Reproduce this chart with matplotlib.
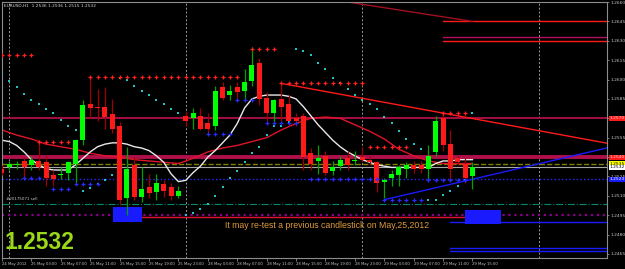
import matplotlib
matplotlib.use('Agg')
import matplotlib.pyplot as plt
from matplotlib.patches import Rectangle
import numpy as np

# ── H1 bars, index 0 = 25 May 03:00 (weekend gap after index 20) ─────────────
bar_idx = np.arange(-4, 61)
opens = [1.2531, 1.2532, 1.2534, 1.2537, 1.2534, 1.2537, 1.2536, 1.2526, 1.2526, 1.2528,
         1.2535, 1.2553, 1.2581, 1.2579, 1.2579, 1.2573, 1.2564, 1.2508, 1.2534, 1.2509,
         1.2517, 1.2513, 1.2519, 1.2517, 1.2510, 1.2572, 1.2570, 1.2572, 1.2566, 1.2564,
         1.2594, 1.2588, 1.2594, 1.2591, 1.2599, 1.2613, 1.2586, 1.2574, 1.2585, 1.2581,
         1.2570, 1.2572, 1.2543, 1.2537, 1.2541, 1.2529, 1.2533, 1.2539, 1.2537, 1.2540,
         1.2538, 1.2536, 1.2521, 1.2524, 1.2526, 1.2531, 1.2534, 1.2534, 1.2531, 1.2544,
         1.2570, 1.2550, 1.2539, 1.2535, 1.2525]
highs = [1.2534, 1.2537, 1.2537, 1.2540, 1.2541, 1.2553, 1.2541, 1.2530, 1.2532, 1.2537,
         1.2554, 1.2584, 1.2603, 1.2593, 1.2594, 1.2585, 1.2567, 1.2548, 1.2540, 1.2532,
         1.2527, 1.2527, 1.2522, 1.2520, 1.2518, 1.2576, 1.2578, 1.2578, 1.2574, 1.2595,
         1.2598, 1.2596, 1.2598, 1.2608, 1.2625, 1.2617, 1.2590, 1.2585, 1.2597, 1.2588,
         1.2574, 1.2574, 1.2547, 1.2549, 1.2545, 1.2537, 1.2541, 1.2545, 1.2545, 1.2548,
         1.2541, 1.2537, 1.2524, 1.2530, 1.2534, 1.2536, 1.2537, 1.2537, 1.2549, 1.2572,
         1.2574, 1.2561, 1.2541, 1.2539, 1.2536]
lows = [1.2526, 1.2530, 1.2531, 1.2524, 1.2530, 1.2530, 1.2518, 1.2518, 1.2523, 1.2522,
        1.2520, 1.2549, 1.2570, 1.2568, 1.2562, 1.2559, 1.2503, 1.2495, 1.2507, 1.2505,
        1.2508, 1.2507, 1.2509, 1.2507, 1.2508, 1.2564, 1.2562, 1.2561, 1.2557, 1.2561,
        1.2584, 1.2584, 1.2584, 1.2584, 1.2595, 1.2580, 1.2568, 1.2564, 1.2568, 1.2564,
        1.2564, 1.2530, 1.2530, 1.2527, 1.2526, 1.2526, 1.2530, 1.2530, 1.2534, 1.2536,
        1.2534, 1.2513, 1.2508, 1.2518, 1.2518, 1.2524, 1.2528, 1.2528, 1.2522, 1.2541,
        1.2545, 1.2522, 1.2534, 1.2520, 1.2515]
closes = [1.2528, 1.2535, 1.2535, 1.2532, 1.2538, 1.2532, 1.2524, 1.2523, 1.2527, 1.2536,
          1.2553, 1.2580, 1.2578, 1.2578, 1.2571, 1.2562, 1.2507, 1.2531, 1.2509, 1.2515,
          1.2512, 1.2520, 1.2514, 1.2510, 1.2514, 1.2568, 1.2574, 1.2562, 1.2562, 1.2591,
          1.2586, 1.2591, 1.2590, 1.2598, 1.2611, 1.2585, 1.2574, 1.2584, 1.2579, 1.2568,
          1.2568, 1.2540, 1.2535, 1.2539, 1.2528, 1.2532, 1.2538, 1.2534, 1.2538, 1.2538,
          1.2536, 1.2520, 1.2522, 1.2527, 1.2532, 1.2534, 1.2531, 1.2531, 1.2541, 1.2568,
          1.2549, 1.2531, 1.2536, 1.2524, 1.2532]

# parabolic SAR (one value per bar)
sar = [1.2604, 1.2599, 1.2594, 1.2589, 1.2584, 1.2581, 1.2577, 1.2574, 1.2569, 1.2564,
       1.2561, 1.2514, 1.2516, 1.2519, 1.2522, 1.2526, 1.2601, 1.2600, 1.2595, 1.2591,
       1.2588, 1.2584, 1.2581, 1.2577, 1.2574, 1.2495, 1.2497, 1.2500, 1.2504, 1.2510,
       1.2517, 1.2524, 1.2529, 1.2536, 1.2543, 1.2548, 1.2557, 1.2564, 1.2564, 1.2567,
       1.2624, 1.2622, 1.2619, 1.2613, 1.2608, 1.2601, 1.2597, 1.2593, 1.2588, 1.2584,
       1.2581, 1.2577, 1.2571, 1.2566, 1.2560, 1.2554, 1.2550, 1.2546, 1.2507, 1.2507,
       1.2511, 1.2514, 1.2518, 1.2522, 1.2574]

# white moving average (one value per bar)
ma_white = [1.2553, 1.2552, 1.2549, 1.2544, 1.2538, 1.2534, 1.2531, 1.2530, 1.2530, 1.2530,
            1.2534, 1.2539, 1.2544, 1.2548, 1.2550, 1.2551, 1.2551, 1.2550, 1.2548, 1.2547,
            1.2545, 1.2541, 1.2536, 1.2527, 1.2521, 1.2522, 1.2528, 1.2533, 1.2540, 1.2545,
            1.2551, 1.2557, 1.2566, 1.2578, 1.2585, 1.2587, 1.2588, 1.2588, 1.2588, 1.2587,
            1.2585, 1.2579, 1.2572, 1.2565, 1.2559, 1.2553, 1.2548, 1.2544, 1.2541, 1.2538,
            1.2536, 1.2534, 1.2533, 1.2532, 1.2532, 1.2532, 1.2532, 1.2532, 1.2532, 1.2535,
            1.2537, 1.2537, 1.2538, 1.2538, 1.2538]

# red moving average (every second bar)
ma_red_idx = np.arange(-4, 61, 2)
ma_red = [1.2561, 1.2557, 1.2554, 1.2550, 1.2548, 1.2546, 1.2543, 1.2541, 1.2540, 1.2538,
          1.2537, 1.2536, 1.2535, 1.2539, 1.2544, 1.2547, 1.2549, 1.2552, 1.2555, 1.2561,
          1.2566, 1.2570, 1.2571, 1.2570, 1.2565, 1.2560, 1.2554, 1.2546, 1.2541, 1.2537,
          1.2535, 1.2535, 1.2535]

# fractal-type level markers: (price, first bar, last bar)
red_marks = [(1.2619, -4, 0), (1.2552, 1, 5), (1.2602, 8, 28), (1.2624, 30, 33),
             (1.2597, 34, 45), (1.2548, 46, 51), (1.2574, 56, 59)]
blue_marks = [(1.2524, -1, 1), (1.2515, 3, 5), (1.2519, 6, 9), (1.2558, 24, 27),
              (1.2584, 28, 30), (1.2566, 32, 36), (1.2523, 38, 47), (1.2507, 48, 53),
              (1.2522, 54, 59)]

# trend lines: (bar1, price1, bar2, price2, colour)
trend_lines = [(34, 1.2597, 79, 1.2550, '#ff1a1a'),
               (43, 1.2660, 60, 1.2645, '#a01020'),
               (48, 1.2507, 79, 1.2548, '#1a1aff')]

# horizontal levels spanning the chart
levels = [(1.2570, '#b0104a', 1.3, '-'), (1.2540, '#b0104a', 2.8, '-'),
          (1.2535, '#808000', 1.0, '--'), (1.2532, '#a8a8a8', 0.8, '-'),
          (1.2523, '#2a2aff', 1.0, ':'), (1.2504, '#008a6a', 0.8, '-.'),
          (1.2495, '#8a008a', 1.6, ':')]
# partial horizontal segments: (price, bar from, bar to, colour)
segments = [(1.2645, 56, 79, '#ff1a1a'), (1.2633, 56, 79, '#b01060'),
            (1.2630, 56, 79, '#ff1a1a'), (1.2494, 13, 59, '#e01030'),
            (1.2490, 57, 79, '#1a1aff'), (1.2470, 57, 79, '#1a1aff'),
            (1.2467, 57, 79, '#1a1aff')]
# blue zones: (bar from, bar to, price low, price high)
zones = [(11.1, 15.1, 1.2490, 1.2501), (59.0, 63.9, 1.2488, 1.2499)]

day_starts = [-3, 21, 45, 69]
tick_bars = list(range(-4, 61, 4))
tick_labels = ['24 May 2012', '25 May 03:00', '25 May 07:00', '25 May 11:00',
               '25 May 15:00', '25 May 19:00', '25 May 23:00', '28 May 03:00',
               '28 May 07:00', '28 May 11:00', '28 May 15:00', '28 May 19:00',
               '28 May 23:00', '29 May 03:00', '29 May 07:00', '29 May 11:00',
               '29 May 15:00']
price_ticks = np.round(np.arange(1.2465, 1.26601, 0.0015), 4)
tags = [(1.2570, '#ff1a1a', '#ffd0d0'), (1.2540, '#ff1a1a', '#ffd0d0'),
        (1.2535, '#ffff00', 'black'), (1.2532, '#ffffff', 'black'),
        (1.2523, '#1a1aff', 'white')]

W, H = 625, 269
fig = plt.figure(figsize=(W / 100, H / 100), dpi=100)
fig.patch.set_facecolor('black')
ax = fig.add_axes([2 / W, 11 / H, 605 / W, 256 / H])
ax.set_facecolor('black')
ax.set_xlim(-3.8, 78.3)
ax.set_ylim(1.24619, 1.26592)

for s in ax.spines.values():
    s.set_color('#8c8c8c')
    s.set_linewidth(0.8)

# day separators
for d in day_starts:
    ax.axvline(d, color='#9a9a9a', lw=0.7, ls=(0, (2, 2)), zorder=1)

for p, c, lw, ls in levels:
    ax.axhline(p, color=c, lw=lw, ls=ls, zorder=1.5)
for p, b0, b1, c in segments:
    ax.plot([b0, b1], [p, p], color=c, lw=1.0, zorder=1.6, clip_on=True)
for b0, b1, p0, p1 in zones:
    ax.add_patch(Rectangle((b0, p0), b1 - b0, p1 - p0, facecolor='#1a1aff',
                           edgecolor='none', zorder=1.7))
for b0, p0, b1, p1, c in trend_lines:
    ax.plot([b0, b1], [p0, p1], color=c, lw=1.0, zorder=1.8)

# indicators
ax.plot(ma_red_idx, ma_red, color='#e01428', lw=1.0, zorder=2)
ax.plot(bar_idx, ma_white, color='#e8e8e8', lw=1.0, zorder=2.1)

# candles
o, h, l, c = map(np.array, (opens, highs, lows, closes))
up = c >= o
ax.vlines(bar_idx[up], l[up], h[up], color='#00a000', lw=0.9, zorder=3)
ax.vlines(bar_idx[~up], l[~up], h[~up], color='#a00000', lw=0.9, zorder=3)
body = np.maximum(np.abs(c - o), 0.00004)
ax.bar(bar_idx[up], body[up], bottom=o[up], width=0.68, color='#00ff00', zorder=3.1)
ax.bar(bar_idx[~up], body[~up], bottom=c[~up], width=0.68, color='#ff1a1a', zorder=3.1)

ax.scatter(bar_idx, sar, marker='s', s=3.5, color='#22c4c4', linewidths=0, zorder=4)
for p, b0, b1 in red_marks:
    xs = np.arange(b0, b1 + 1)
    ax.scatter(xs, [p] * len(xs), marker='+', s=7, color='#ff2020', linewidths=0.9, zorder=4)
for p, b0, b1 in blue_marks:
    xs = np.arange(b0, b1 + 1)
    ax.scatter(xs, [p] * len(xs), marker='+', s=7, color='#2a2aff', linewidths=0.9, zorder=4)

# axes ticks
ax.set_xticks(tick_bars)
ax.set_xticklabels(tick_labels, ha='left', fontsize=2.7, color='#c8c8c8')
ax.tick_params(axis='x', colors='#8c8c8c', length=2, width=0.6, pad=1.2, labelcolor='#c8c8c8')
ax.yaxis.tick_right()
ax.set_yticks(price_ticks)
ax.set_yticklabels([f'{v:.4f}' for v in price_ticks], fontsize=3.2, color='#c8c8c8')
ax.tick_params(axis='y', colors='#8c8c8c', length=1.5, width=0.6, pad=1.0, labelcolor='#c8c8c8')

for p, bg, fg in tags:
    ax.text(1.004, p, f'{p:.4f}', transform=ax.get_yaxis_transform(), fontsize=3.2,
            color=fg, va='center', ha='left', zorder=6, clip_on=False,
            bbox=dict(boxstyle='square,pad=0.12', facecolor=bg, edgecolor='none'))

# texts
fig.text(4 / W, 1 - 6 / H, 'EURUSD,H1  1.2536 1.2536 1.2515 1.2532', fontsize=3.1,
         color='#d8d8d8', va='center', ha='left')
ax.text(-3.4, 1.25062, '#20175071 sell', fontsize=2.9, color='#c8c8c8', va='bottom', ha='left')
ax.text(-3.6, 1.24740, '1.2532', fontsize=16.5, fontweight='bold', color='#9ad81a',
        family='Liberation Sans', va='center', ha='left')
ax.text(26.3, 1.24874, 'It may re-test a previous candlestick on May,25,2012', fontsize=6.3,
        color='#e09a3c', family='Liberation Sans', va='center', ha='left')

fig.savefig('out.png', dpi=100, facecolor='black')
